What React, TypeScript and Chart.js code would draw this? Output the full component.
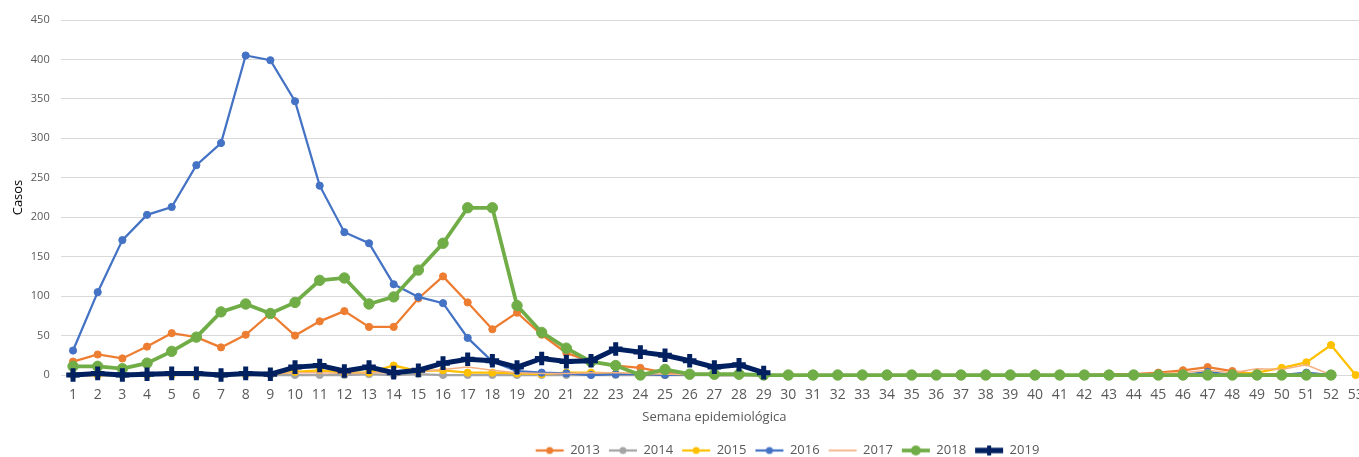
import React, { useEffect, useRef } from "react";
import { Chart, registerables } from "chart.js";

Chart.register(...registerables);

const weeks = [
  "1", "2", "3", "4", "5", "6", "7", "8", "9", "10", "11", "12", "13", "14", "15", "16", "17", "18",
  "19", "20", "21", "22", "23", "24", "25", "26", "27", "28", "29", "30", "31", "32", "33", "34", "35",
  "36", "37", "38", "39", "40", "41", "42", "43", "44", "45", "46", "47", "48", "49", "50", "51", "52", "53",
];

const s2013 = [
  17, 26, 21, 36, 53, 48, 35, 51, 78, 50, 68, 81, 61, 61, 97, 125, 92, 58, 79, 51, 28, 17, 12, 9, 3, 1,
  1, 1, 0, 0, 0, 0, 0, 0, 0, 0, 0, 0, 0, 0, 0, 0, 1, 1, 3, 6, 10, 5, 1, 1, 1, 0,
];
const s2014 = [
  0, 0, 0, 0, 0, 0, 0, 0, 0, 0, 0, 0, 1, 0, 1, 0, 0, 0, 0, 0, 0, 0, 0, 0, 0, 0,
  0, 0, 0, 0, 0, 0, 0, 0, 0, 0, 0, 0, 0, 0, 0, 0, 0, 0, 0, 0, 0, 0, 0, 0, 0, 0,
];
const s2015 = [
  0, 0, 0, 0, 1, 1, 0, 1, 1, 4, 6, 3, 3, 12, 5, 6, 3, 3, 2, 1, 3, 3, 2, 1, 0, 1,
  0, 0, 0, 0, 0, 0, 0, 0, 0, 0, 0, 0, 0, 0, 0, 0, 0, 0, 1, 1, 1, 1, 3, 9, 16, 38, 0,
];
const s2016 = [
  31, 105, 171, 203, 213, 266, 294, 405, 399, 347, 240, 181, 167, 115, 99, 91, 47, 17, 5, 3, 2, 0, 1, 1, 0, 1,
  0, 0, 0, 0, 0, 0, 0, 0, 0, 0, 0, 0, 0, 0, 0, 0, 0, 0, 0, 0, 4, 0, 0, 0, 3, 0,
];
const s2017 = [
  1, 1, 1, 1, 2, 2, 1, 2, 2, 3, 3, 2, 3, 3, 4, 7, 10, 6, 3, 2, 2, 3, 3, 2, 1, 1,
  0, 0, 0, 0, 0, 0, 0, 0, 0, 0, 0, 0, 0, 0, 0, 0, 0, 1, 2, 3, 6, 3, 8, 7, 13, 0,
];
const s2018 = [
  11, 11, 8, 15, 30, 48, 80, 90, 78, 92, 120, 123, 90, 99, 133, 167, 212, 212, 88, 54, 34, 17, 12, 0, 7, 1,
  1, 1, 0, 0, 0, 0, 0, 0, 0, 0, 0, 0, 0, 0, 0, 0, 0, 0, 0, 0, 0, 0, 0, 0, 0, 0,
];
const s2019 = [
  0, 2, 0, 1, 2, 2, 0, 2, 1, 10, 12, 5, 10, 3, 6, 15, 20, 18, 10, 21, 17, 18, 33, 29, 25, 18, 10, 13, 3,
];

const seriesLabels = ["2013", "2014", "2015", "2016", "2017", "2018", "2019"];
const yTicks = [0, 50, 100, 150, 200, 250, 300, 350, 400, 450];

const TEXT = "#595959";
const FONT = "'Open Sans', 'Noto Sans', sans-serif";

function makeIcon(color: string, lw: number, marker: string, size: number) {
  const c = document.createElement("canvas");
  c.width = 30;
  c.height = 14;
  const ctx = c.getContext("2d")!;
  ctx.strokeStyle = color;
  ctx.fillStyle = color;
  ctx.lineWidth = lw;
  ctx.beginPath();
  ctx.moveTo(1, 7);
  ctx.lineTo(29, 7);
  ctx.stroke();
  if (marker === "circle") {
    ctx.beginPath();
    ctx.arc(15, 7, size, 0, Math.PI * 2);
    ctx.fill();
  } else if (marker === "cross") {
    ctx.lineWidth = 4;
    ctx.beginPath();
    ctx.moveTo(15 - size, 7);
    ctx.lineTo(15 + size, 7);
    ctx.moveTo(15, 7 - size);
    ctx.lineTo(15, 7 + size);
    ctx.stroke();
  }
  return c;
}

export default function App() {
  const ref = useRef<HTMLCanvasElement | null>(null);

  useEffect(() => {
    if (!ref.current) return;
    Chart.defaults.font.family = FONT;
    Chart.defaults.color = TEXT;

    const styles = [
      { color: "#ED7D31", bw: 2.25, r: 3.6, ps: "circle", pbw: 1, icon: ["circle", 3.5, 2.25] },
      { color: "#A5A5A5", bw: 2.25, r: 3.6, ps: "circle", pbw: 1, icon: ["circle", 3.5, 2.25] },
      { color: "#FFC000", bw: 2.25, r: 3.6, ps: "circle", pbw: 1, icon: ["circle", 3.5, 2.25] },
      { color: "#4472C4", bw: 2.25, r: 3.6, ps: "circle", pbw: 1, icon: ["circle", 3.5, 2.25] },
      { color: "#F4B183", bw: 1.5, r: 0, ps: "circle", pbw: 0, icon: ["none", 0, 1.75] },
      { color: "#70AD47", bw: 3.75, r: 5.2, ps: "circle", pbw: 1, icon: ["circle", 5, 3.75] },
      { color: "#002060", bw: 5, r: 6.8, ps: "cross", pbw: 5, icon: ["cross", 5, 5.5] },
    ];
    const values = [s2013, s2014, s2015, s2016, s2017, s2018, s2019];
    const icons = styles.map((s) => makeIcon(s.color, s.icon[2] as number, s.icon[0] as string, s.icon[1] as number));

    const datasets = values.map((v, i) => ({
      label: seriesLabels[i],
      data: v,
      borderColor: styles[i].color,
      backgroundColor: styles[i].color,
      borderWidth: styles[i].bw,
      pointRadius: styles[i].r,
      pointHoverRadius: styles[i].r,
      pointStyle: styles[i].ps,
      pointBackgroundColor: styles[i].color,
      pointBorderColor: styles[i].color,
      pointBorderWidth: styles[i].pbw,
      tension: 0,
      fill: false,
      clip: false,
      order: values.length - i,
      yAxisID: "y",
    }));

    const chart = new Chart(ref.current, {
      type: "line",
      data: { labels: weeks, datasets: datasets as any },
      options: {
        animation: false,
        responsive: true,
        maintainAspectRatio: false,
        events: [],
        layout: { padding: { top: 20, left: 0, right: 0, bottom: 0 } },
        plugins: {
          tooltip: { enabled: false },
          legend: {
            display: true,
            position: "bottom",
            labels: {
              usePointStyle: true,
              pointStyleWidth: 28,
              padding: 9,
              color: TEXT,
              font: { size: 13, family: FONT },
              generateLabels: () =>
                seriesLabels.map((t, i) => ({
                  text: t,
                  pointStyle: icons[i] as any,
                  fillStyle: "rgba(0,0,0,0)",
                  strokeStyle: "rgba(0,0,0,0)",
                  lineWidth: 0,
                  hidden: false,
                  datasetIndex: i,
                  fontColor: TEXT,
                })),
            },
          },
        },
        scales: {
          x: {
            type: "category",
            offset: true,
            afterFit: (s: any) => {
              s.height = 60;
            },
            grid: { display: false, drawTicks: false },
            border: { display: false },
            ticks: {
              autoSkip: false,
              maxRotation: 0,
              minRotation: 0,
              padding: 11.5,
              color: TEXT,
              font: { size: 14, family: FONT },
            },
            title: {
              display: true,
              text: "Semana epidemiológica",
              color: TEXT,
              font: { size: 13, family: FONT },
              padding: { top: 4, bottom: 10 },
            },
          },
          y: {
            type: "linear",
            position: "left",
            min: 0,
            max: 450,
            afterFit: (s: any) => {
              s.width = 60.7;
            },
            afterBuildTicks: (s: any) => {
              s.ticks = yTicks.map((v) => ({ value: v }));
            },
            grid: { color: "#D9D9D9", lineWidth: 1, drawTicks: false },
            border: { display: false },
            ticks: { padding: 11, color: TEXT, font: { size: 11, family: FONT } },
            title: {
              display: true,
              text: "Casos",
              color: "#000000",
              font: { size: 13, family: FONT },
              padding: { top: 10, bottom: 0 },
            },
          },
          yRight: {
            type: "linear",
            position: "right",
            display: true,
            afterFit: (s: any) => {
              s.width = 207;
            },
            grid: { display: false },
            border: { display: false },
            ticks: { display: false },
          },
        },
      } as any,
    });
    return () => chart.destroy();
  }, []);

  return (
    <div
      style={{
        position: "fixed",
        left: 0,
        top: 0,
        width: "100vw",
        height: "100vh",
        overflow: "hidden",
        background: "#ffffff",
      }}
    >
      <div style={{ position: "relative", width: "1575px", height: "467px" }}>
        <canvas ref={ref} />
      </div>
    </div>
  );
}
